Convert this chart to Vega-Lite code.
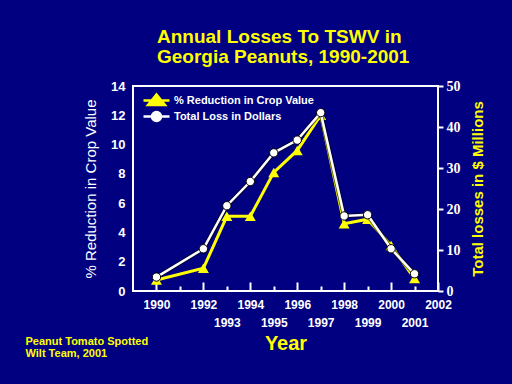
{
  "$schema": "https://vega.github.io/schema/vega-lite/v6.json",
  "width": 305,
  "height": 205,
  "autosize": "none",
  "padding": {"left": 133, "top": 86, "right": 74, "bottom": 93},
  "background": "#000080",
  "config": {
    "font": "Liberation Sans",
    "view": {"stroke": "#ffffff", "strokeWidth": 2},
    "axis": {"grid": false, "domain": false}
  },
  "title": {
    "text": ["Annual Losses To TSWV in", "Georgia Peanuts, 1990-2001"],
    "color": "#ffff00",
    "font": "Liberation Sans",
    "fontSize": 19,
    "fontWeight": "bold",
    "anchor": "start",
    "frame": "group",
    "dx": 24,
    "lineHeight": 20,
    "offset": 12
  },
  "data": {
    "values": [
      {"year": 1990, "series": "% Reduction in Crop Value", "value": 0.75},
      {"year": 1992, "series": "% Reduction in Crop Value", "value": 1.55},
      {"year": 1993, "series": "% Reduction in Crop Value", "value": 5.1},
      {"year": 1994, "series": "% Reduction in Crop Value", "value": 5.1},
      {"year": 1995, "series": "% Reduction in Crop Value", "value": 8.1},
      {"year": 1996, "series": "% Reduction in Crop Value", "value": 9.6},
      {"year": 1997, "series": "% Reduction in Crop Value", "value": 12.0},
      {"year": 1998, "series": "% Reduction in Crop Value", "value": 4.6},
      {"year": 1999, "series": "% Reduction in Crop Value", "value": 4.9},
      {"year": 2000, "series": "% Reduction in Crop Value", "value": 3.1},
      {"year": 2001, "series": "% Reduction in Crop Value", "value": 0.85},
      {"year": 1990, "series": "Total Loss in Dollars", "value": 3.4},
      {"year": 1992, "series": "Total Loss in Dollars", "value": 10.3},
      {"year": 1993, "series": "Total Loss in Dollars", "value": 20.8},
      {"year": 1994, "series": "Total Loss in Dollars", "value": 26.7},
      {"year": 1995, "series": "Total Loss in Dollars", "value": 33.7},
      {"year": 1996, "series": "Total Loss in Dollars", "value": 36.8},
      {"year": 1997, "series": "Total Loss in Dollars", "value": 43.5},
      {"year": 1998, "series": "Total Loss in Dollars", "value": 18.3},
      {"year": 1999, "series": "Total Loss in Dollars", "value": 18.6},
      {"year": 2000, "series": "Total Loss in Dollars", "value": 10.3},
      {"year": 2001, "series": "Total Loss in Dollars", "value": 4.2}
    ]
  },
  "layer": [
    {
      "transform": [{"filter": "datum.series === '% Reduction in Crop Value'"}],
      "encoding": {
        "x": {
          "field": "year", "type": "quantitative",
          "scale": {"domain": [1989, 2002], "nice": false, "zero": false},
          "axis": {
            "orient": "bottom",
            "values": [1990, 1992, 1994, 1996, 1998, 2000, 2002],
            "format": "d",
            "labelFlush": false,
            "labelColor": "#ffffff",
            "labelFontSize": 12,
            "labelFontWeight": "bold",
            "labelPadding": 17,
            "ticks": true,
            "tickSize": -9,
            "tickColor": "#ffffff",
            "tickWidth": 2,
            "title": ["Peanut Tomato Spotted", "Wilt Team, 2001"],
            "titleColor": "#ffff00",
            "titleFontSize": 11,
            "titleFontWeight": "bold",
            "titleAlign": "left",
            "titleAnchor": "start",
            "titleBaseline": "top",
            "titleLineHeight": 12,
            "titleX": -108,
            "titleY": 44,
            "titleAngle": 0
          }
        },
        "y": {
          "field": "value", "type": "quantitative",
          "scale": {"domain": [0, 14], "nice": false},
          "axis": {
            "orient": "left",
            "values": [0, 2, 4, 6, 8, 10, 12, 14],
            "ticks": false,
            "labelColor": "#ffffff",
            "labelFontSize": 13,
            "labelFontWeight": "bold",
            "labelPadding": 8,
            "title": "% Reduction in Crop Value",
            "titleColor": "#ffffff",
            "titleFontSize": 15,
            "titleFontWeight": "normal",
            "titlePadding": 12
          }
        }
      },
      "layer": [
        {
          "mark": {"type": "line", "strokeWidth": 3},
          "encoding": {
            "color": {
              "field": "series", "type": "nominal",
              "scale": {"domain": ["% Reduction in Crop Value", "Total Loss in Dollars"], "range": ["#ffff00", "#ffffff"]},
              "legend": {
                "title": null,
                "orient": "none",
                "legendX": 17,
                "legendY": 8,
                "labelColor": "#ffffff",
                "labelFontSize": 11,
                "labelFontWeight": "bold",
                "labelOffset": 11,
                "symbolSize": 100,
                "rowPadding": -8,
                "padding": 0,
                "encode": {
                  "symbols": {
                    "update": {
                      "shape": {"signal": "datum.value === '% Reduction in Crop Value' ? 'M-2.6,0H2.6M0,-1.2L1.7,0.9L-1.7,0.9Z' : 'M-2.6,0H2.6M0.9,0A0.9,0.9,0,1,1,-0.9,0A0.9,0.9,0,1,1,0.9,0Z'"},
                      "fill": {"signal": "datum.value === '% Reduction in Crop Value' ? '#ffff00' : '#ffffff'"},
                      "stroke": {"signal": "datum.value === '% Reduction in Crop Value' ? '#ffff00' : '#ffffff'"},
                      "strokeWidth": {"value": 2.5},
                      "opacity": {"value": 1},
                      "fillOpacity": {"value": 1}
                    }
                  }
                }
              }
            }
          }
        },
        {
          "mark": {"type": "point", "shape": "triangle-up", "filled": true, "size": 120, "opacity": 1},
          "encoding": {"color": {"field": "series", "type": "nominal"}}
        }
      ]
    },
    {
      "transform": [{"filter": "datum.series === 'Total Loss in Dollars'"}],
      "encoding": {
        "x": {
          "field": "year", "type": "quantitative",
          "axis": {
            "orient": "bottom",
            "values": [1991, 1993, 1995, 1997, 1999, 2001],
            "format": "d",
            "labelExpr": "datum.value == 1991 ? '' : datum.label",
            "labelFlush": false,
            "labelColor": "#ffffff",
            "labelFontSize": 12,
            "labelFontWeight": "bold",
            "labelPadding": 31,
            "ticks": true,
            "tickSize": -5,
            "tickColor": "#ffffff",
            "tickWidth": 2,
            "title": "Year",
            "titleColor": "#ffff00",
            "titleFontSize": 20,
            "titleFontWeight": "bold",
            "titlePadding": 5
          }
        },
        "y": {
          "field": "value", "type": "quantitative",
          "scale": {"domain": [0, 50], "nice": false},
          "axis": {
            "orient": "right",
            "values": [0, 10, 20, 30, 40, 50],
            "ticks": true,
            "tickSize": 5,
            "tickColor": "#ffffff",
            "tickWidth": 2,
            "labelColor": "#ffffff",
            "labelFont": "Liberation Serif",
            "labelFontSize": 14,
            "labelFontWeight": "bold",
            "labelPadding": 3,
            "title": "Total losses in $ Millions",
            "titleColor": "#ffff00",
            "titleFontSize": 15,
            "titleFontWeight": "bold",
            "titleAngle": 270,
            "titlePadding": 25
          }
        }
      },
      "layer": [
        {
          "mark": {"type": "line", "strokeWidth": 4.5, "color": "#000000", "opacity": 0.6}
        },
        {
          "mark": {"type": "line", "strokeWidth": 2.5},
          "encoding": {"color": {"field": "series", "type": "nominal"}}
        },
        {
          "mark": {"type": "point", "shape": "circle", "filled": true, "size": 70, "stroke": "#000000", "strokeWidth": 1, "opacity": 1},
          "encoding": {"color": {"field": "series", "type": "nominal"}}
        }
      ]
    }
  ],
  "resolve": {"scale": {"y": "independent"}, "axis": {"x": "independent"}}
}
